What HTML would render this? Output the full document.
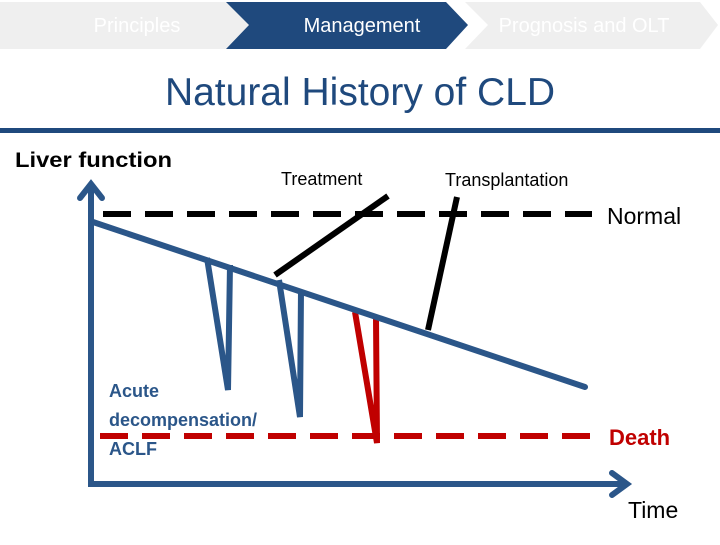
<!DOCTYPE html>
<html><head><style>
body{margin:0;width:720px;height:540px;overflow:hidden;background:#fff;font-family:"Liberation Sans",sans-serif;}
</style></head><body>
<svg width="720" height="540" xmlns="http://www.w3.org/2000/svg">
<polygon points="0,2 228,2 250,25 228,49 0,49" fill="#efefef"/>
<polygon points="465,2 700,2 718,25 700,49 465,49 488,25" fill="#efefef"/>
<polygon points="226,2 446,2 468,25 446,49 226,49 249,25" fill="#1f497d"/>
<text x="137" y="32" font-size="20" fill="#ffffff" text-anchor="middle">Principles</text>
<text x="362" y="32" font-size="20" fill="#ffffff" text-anchor="middle">Management</text>
<text x="584" y="32" font-size="20" fill="#ffffff" text-anchor="middle">Prognosis and OLT</text>
<text x="360" y="105" font-size="39" fill="#1f497d" text-anchor="middle">Natural History of CLD</text>
<rect x="0" y="128" width="720" height="5" fill="#1f497d"/>
<g stroke-width="6" fill="none" stroke-linecap="butt">
<line x1="103" y1="214" x2="592" y2="214" stroke="#000" stroke-dasharray="28,14"/>
<line x1="100" y1="436" x2="592" y2="436" stroke="#c00000" stroke-dasharray="28,14"/>
<line x1="91" y1="487" x2="91" y2="185" stroke="#2b5689"/>
<polyline points="80,198 91,184 102,198" stroke="#2b5689" stroke-linecap="round"/>
<line x1="88" y1="484" x2="627" y2="484" stroke="#2b5689"/>
<polyline points="612,473 627,484 612,495" stroke="#2b5689" stroke-linecap="round"/>
<line x1="275" y1="275" x2="388" y2="196" stroke="#000"/>
<line x1="428" y1="330" x2="457" y2="197" stroke="#000"/>
<polyline points="207,258 228,390 230,265" stroke="#2b5689" stroke-linejoin="miter"/>
<polyline points="279,280 300,417 301,290" stroke="#2b5689"/>
<polyline points="355,312 377,443 376,318" stroke="#c00000"/>
<line x1="93" y1="222" x2="585" y2="387" stroke="#2b5689" stroke-linecap="round"/>
</g>
<text x="15" y="167" font-size="21" font-weight="bold" fill="#000" textLength="157" lengthAdjust="spacingAndGlyphs">Liver function</text>
<text x="281" y="185" font-size="18" fill="#000">Treatment</text>
<text x="445" y="186" font-size="18" fill="#000">Transplantation</text>
<text x="607" y="224" font-size="23" fill="#000">Normal</text>
<text x="609" y="445" font-size="22" font-weight="bold" fill="#c00000">Death</text>
<text x="628" y="518" font-size="23" fill="#000">Time</text>
<text font-size="18" font-weight="bold" fill="#2b5689"><tspan x="109" y="397">Acute</tspan><tspan x="109" y="426">decompensation/</tspan><tspan x="109" y="455">ACLF</tspan></text>
</svg>
</body></html>
